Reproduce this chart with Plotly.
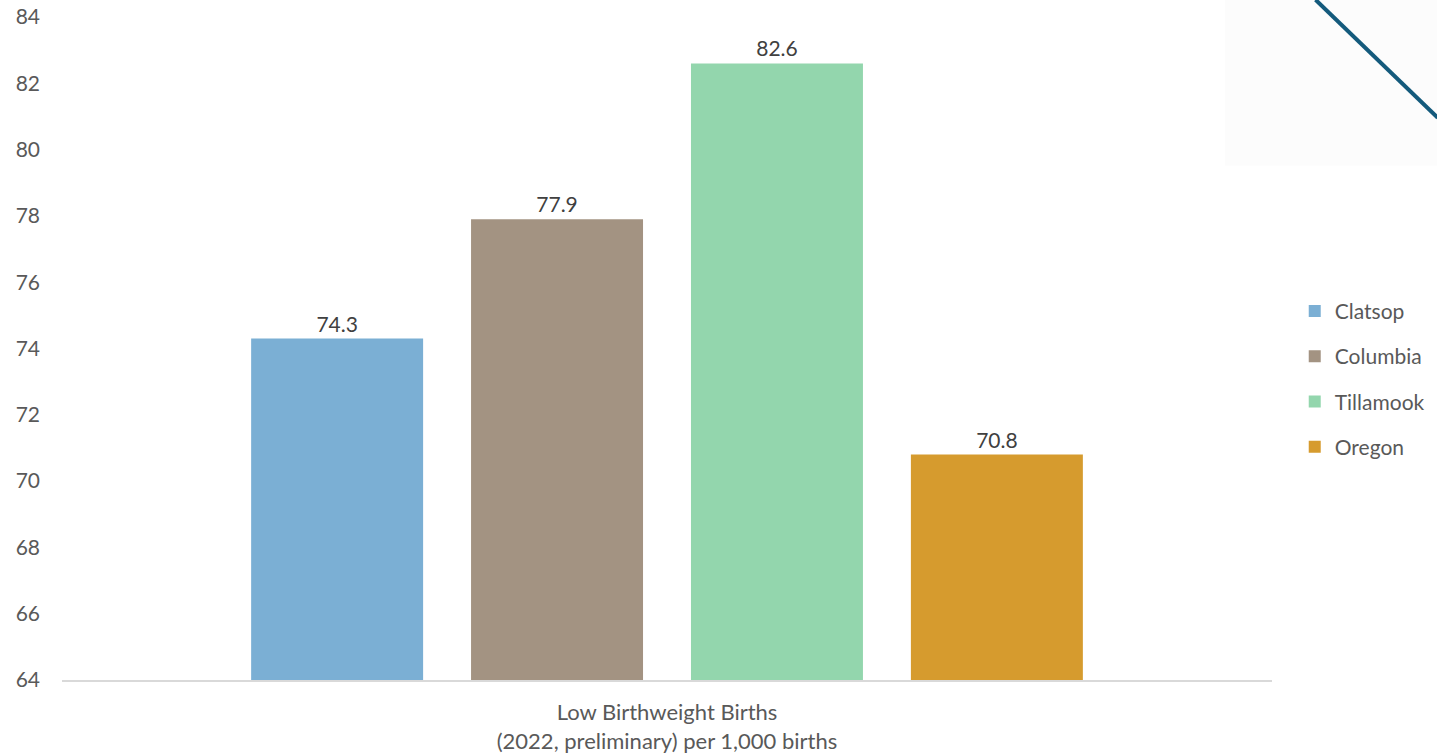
import plotly.graph_objects as go

# data
category = ["Low Birthweight Births<br>(2022, preliminary) per 1,000 births"]
counties = ["Clatsop", "Columbia", "Tillamook", "Oregon"]
rates = [74.3, 77.9, 82.6, 70.8]
colors = ["#7BAFD4", "#A39382", "#93D6AD", "#D69B2E"]

FONT = "Lato"

fig = go.Figure()

for name, val, col in zip(counties, rates, colors):
    fig.add_trace(go.Bar(
        x=category,
        y=[val],
        name=name,
        legendgroup=name,
        marker=dict(color=col, line=dict(width=0)),
        text=[f"{val:.1f}"],
        textposition="outside",
        textfont=dict(size=21, color="#404040", family=FONT),
        cliponaxis=False,
    ))

fig.update_layout(
    width=1437,
    height=754,
    barmode="group",
    bargap=0.273,
    bargroupgap=0.218,
    plot_bgcolor="white",
    paper_bgcolor="white",
    margin=dict(l=62, r=165, t=17, b=74, autoexpand=False),
    font=dict(family=FONT, size=21, color="#595959"),
    showlegend=True,
    legend=dict(
        xref="container", yref="container",
        x=0.901, xanchor="left",
        y=0.497, yanchor="middle",
        font=dict(size=21, color="#595959"),
        tracegroupgap=15,
        itemwidth=30,
        bgcolor="rgba(0,0,0,0)",
    ),
    yaxis=dict(
        range=[64, 84],
        dtick=2,
        showgrid=False,
        zeroline=False,
        showline=False,
        ticks="",
        automargin=False,
        ticklabelstandoff=21,
        tickfont=dict(size=21, color="#595959"),
    ),
    xaxis=dict(
        showgrid=False,
        showline=True,
        linecolor="#D9D9D9",
        linewidth=2,
        ticks="",
        automargin=False,
        ticklabelstandoff=12,
        tickfont=dict(size=22, color="#595959"),
    ),
)

# faint panel and decorative corner line from the slide template
fig.add_shape(
    type="rect", xref="paper", yref="paper",
    x0=0.961, y0=0.776, x1=1.137, y1=1.026,
    line=dict(width=0), fillcolor="#FCFCFC", layer="below",
)
fig.add_shape(
    type="line", xref="paper", yref="paper",
    x0=1.036, y0=1.026, x1=1.137, y1=0.848,
    line=dict(color="#145A7C", width=4),
)

fig.write_html(
    "out.html",
    config={"displayModeBar": False},
    post_script="document.body.style.margin='0';",
)
